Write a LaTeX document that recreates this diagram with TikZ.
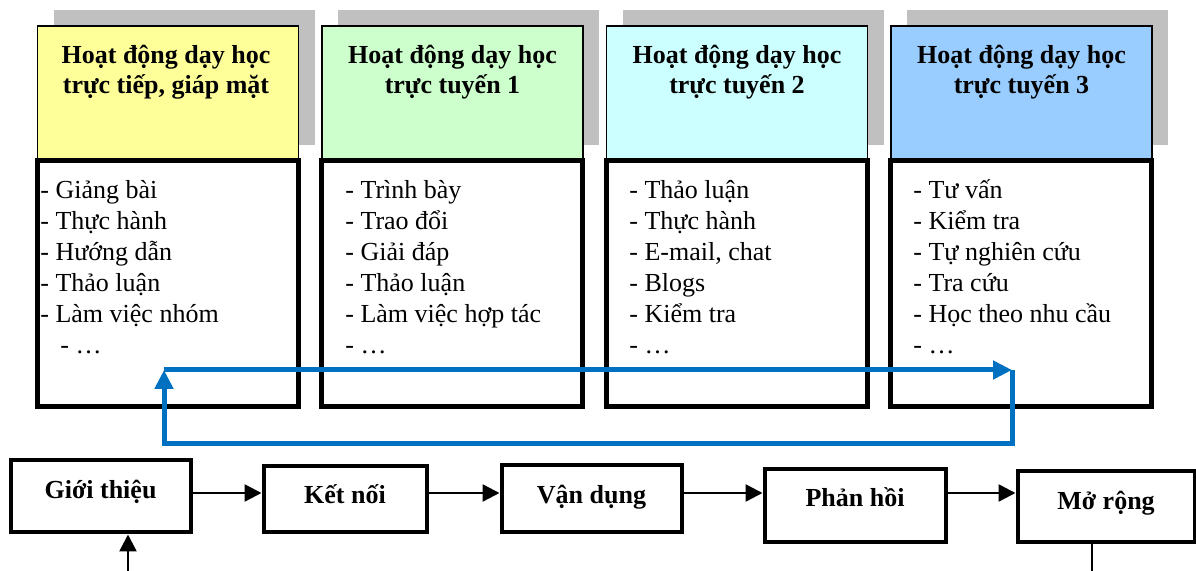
\documentclass[tikz,border=0pt]{standalone}
\usepackage{fontspec}
\setmainfont{Liberation Serif}
\usetikzlibrary{arrows.meta}
\definecolor{shadegray}{HTML}{C0C0C0}
\definecolor{headyellow}{HTML}{FFFF99}
\definecolor{headgreen}{HTML}{CCFFCC}
\definecolor{headcyan}{HTML}{CCFFFF}
\definecolor{headblue}{HTML}{99CCFF}
\definecolor{cycleblue}{HTML}{0070C0}
\begin{document}
\begin{tikzpicture}[x=0.5pt,y=-0.5pt,
    shadebox/.style={fill=shadegray,draw=none,minimum width=130.5pt,minimum height=67.5pt,inner sep=0pt},
    headbox/.style={draw,line width=0.6pt,minimum width=130.5pt,minimum height=66.5pt,inner sep=0pt},
    listbox/.style={draw,line width=2.5pt,minimum width=130.5pt,minimum height=123pt,inner sep=0pt},
    headtext/.style={font=\fontsize{13}{15.25}\selectfont\bfseries,align=center,anchor=base,inner sep=0pt},
    listtext/.style={font=\fontsize{13}{15.5}\selectfont,align=left,anchor=base west,inner sep=0pt},
    flowbox/.style={draw,line width=2pt,inner sep=0pt},
    flowtext/.style={font=\fontsize{13}{15.4}\selectfont\bfseries,anchor=base,inner sep=0pt},
    flow/.style={line width=1.25pt,-{Triangle[length=8.5pt,width=8.5pt]}},
    cycle/.style={draw=cycleblue,line width=2.5pt,-{Triangle[length=9.5pt,width=9pt]}}]
  \useasboundingbox (0,0) rectangle (1196,571);
  % shadows behind the headers
  \node[shadebox] (s1) at (184,77.5) {};
  \node[shadebox] (s2) at (468.5,77.5) {};
  \node[shadebox] (s3) at (753,77.5) {};
  \node[shadebox] (s4) at (1037.5,77.5) {};
  % headers
  \node[headbox,fill=headyellow] (h1) at (168,92.5) {};
  \node[headbox,fill=headgreen] (h2) at (452.5,92.5) {};
  \node[headbox,fill=headcyan] (h3) at (737,92.5) {};
  \node[headbox,fill=headblue] (h4) at (1021.5,92.5) {};
  \node[headtext] (t1) at (166,94) {Hoạt động dạy học\\trực tiếp, giáp mặt};
  \node[headtext] (t2) at (452.5,94) {Hoạt động dạy học\\trực tuyến 1};
  \node[headtext] (t3) at (737,94) {Hoạt động dạy học\\trực tuyến 2};
  \node[headtext] (t4) at (1021.5,94) {Hoạt động dạy học\\trực tuyến 3};
  % lists
  \node[listbox,fill=white] (l1) at (167.5,284) {};
  \node[listbox,fill=white] (l2) at (452,284) {};
  \node[listbox,fill=white] (l3) at (736.5,284) {};
  \node[listbox,fill=white] (l4) at (1021,284) {};
  \node[listtext] (a1) at (40,354) {- Giảng bài\\- Thực hành\\- Hướng dẫn\\- Thảo luận\\- Làm việc nhóm\\\hspace*{10pt}- …};
  \node[listtext] (a2) at (345,354) {- Trình bày\\- Trao đổi\\- Giải đáp\\- Thảo luận\\- Làm việc hợp tác\\- …};
  \node[listtext] (a3) at (629,354) {- Thảo luận\\- Thực hành\\- E-mail, chat\\- Blogs\\- Kiểm tra\\- …};
  \node[listtext] (a4) at (913,354) {- Tư vấn\\- Kiểm tra\\- Tự nghiên cứu\\- Tra cứu\\- Học theo nhu cầu\\- …};
  % blue cycle
  \coordinate (cl) at (164,370);
  \coordinate (cr) at (1012,370);
  \draw[cycle] (cl) -- (cr);
  \draw[cycle] (cr) -- ++(0,74) -| (cl);
  % flow boxes
  \node[flowbox,minimum width=90pt,minimum height=36pt] (gt) at (100.5,496.5) {};
  \node[flowbox,minimum width=81.5pt,minimum height=33pt] (kn) at (345,499.5) {};
  \node[flowbox,minimum width=90pt,minimum height=33.5pt] (vd) at (591.5,499) {};
  \node[flowbox,minimum width=90.5pt,minimum height=36.5pt] (ph) at (855,506) {};
  \node[flowbox,minimum width=88.5pt,minimum height=35.5pt] (mr) at (1106,507) {};
  \node[flowtext] (gtt) at (100.5,499) {Giới thiệu};
  \node[flowtext] (knt) at (345,504) {Kết nối};
  \node[flowtext] (vdt) at (591.5,504) {Vận dụng};
  \node[flowtext] (pht) at (855,507) {Phản hồi};
  \node[flowtext] (mrt) at (1106,510) {Mở rộng};
  \draw[flow] (gt.east |- 0,493) -- (kn.west |- 0,493);
  \draw[flow] (kn.east |- 0,493) -- (vd.west |- 0,493);
  \draw[flow] (vd.east |- 0,493) -- (ph.west |- 0,493);
  \draw[flow] (ph.east |- 0,493) -- (mr.west |- 0,493);
  % loop ends below the picture
  \coordinate (loopin) at (128,571);
  \coordinate (loopout) at (1092,571);
  \draw[flow] (loopin) -- (loopin |- gt.south);
  \draw[line width=1.25pt] (loopout |- mr.south) -- (loopout);
\end{tikzpicture}
\end{document}
